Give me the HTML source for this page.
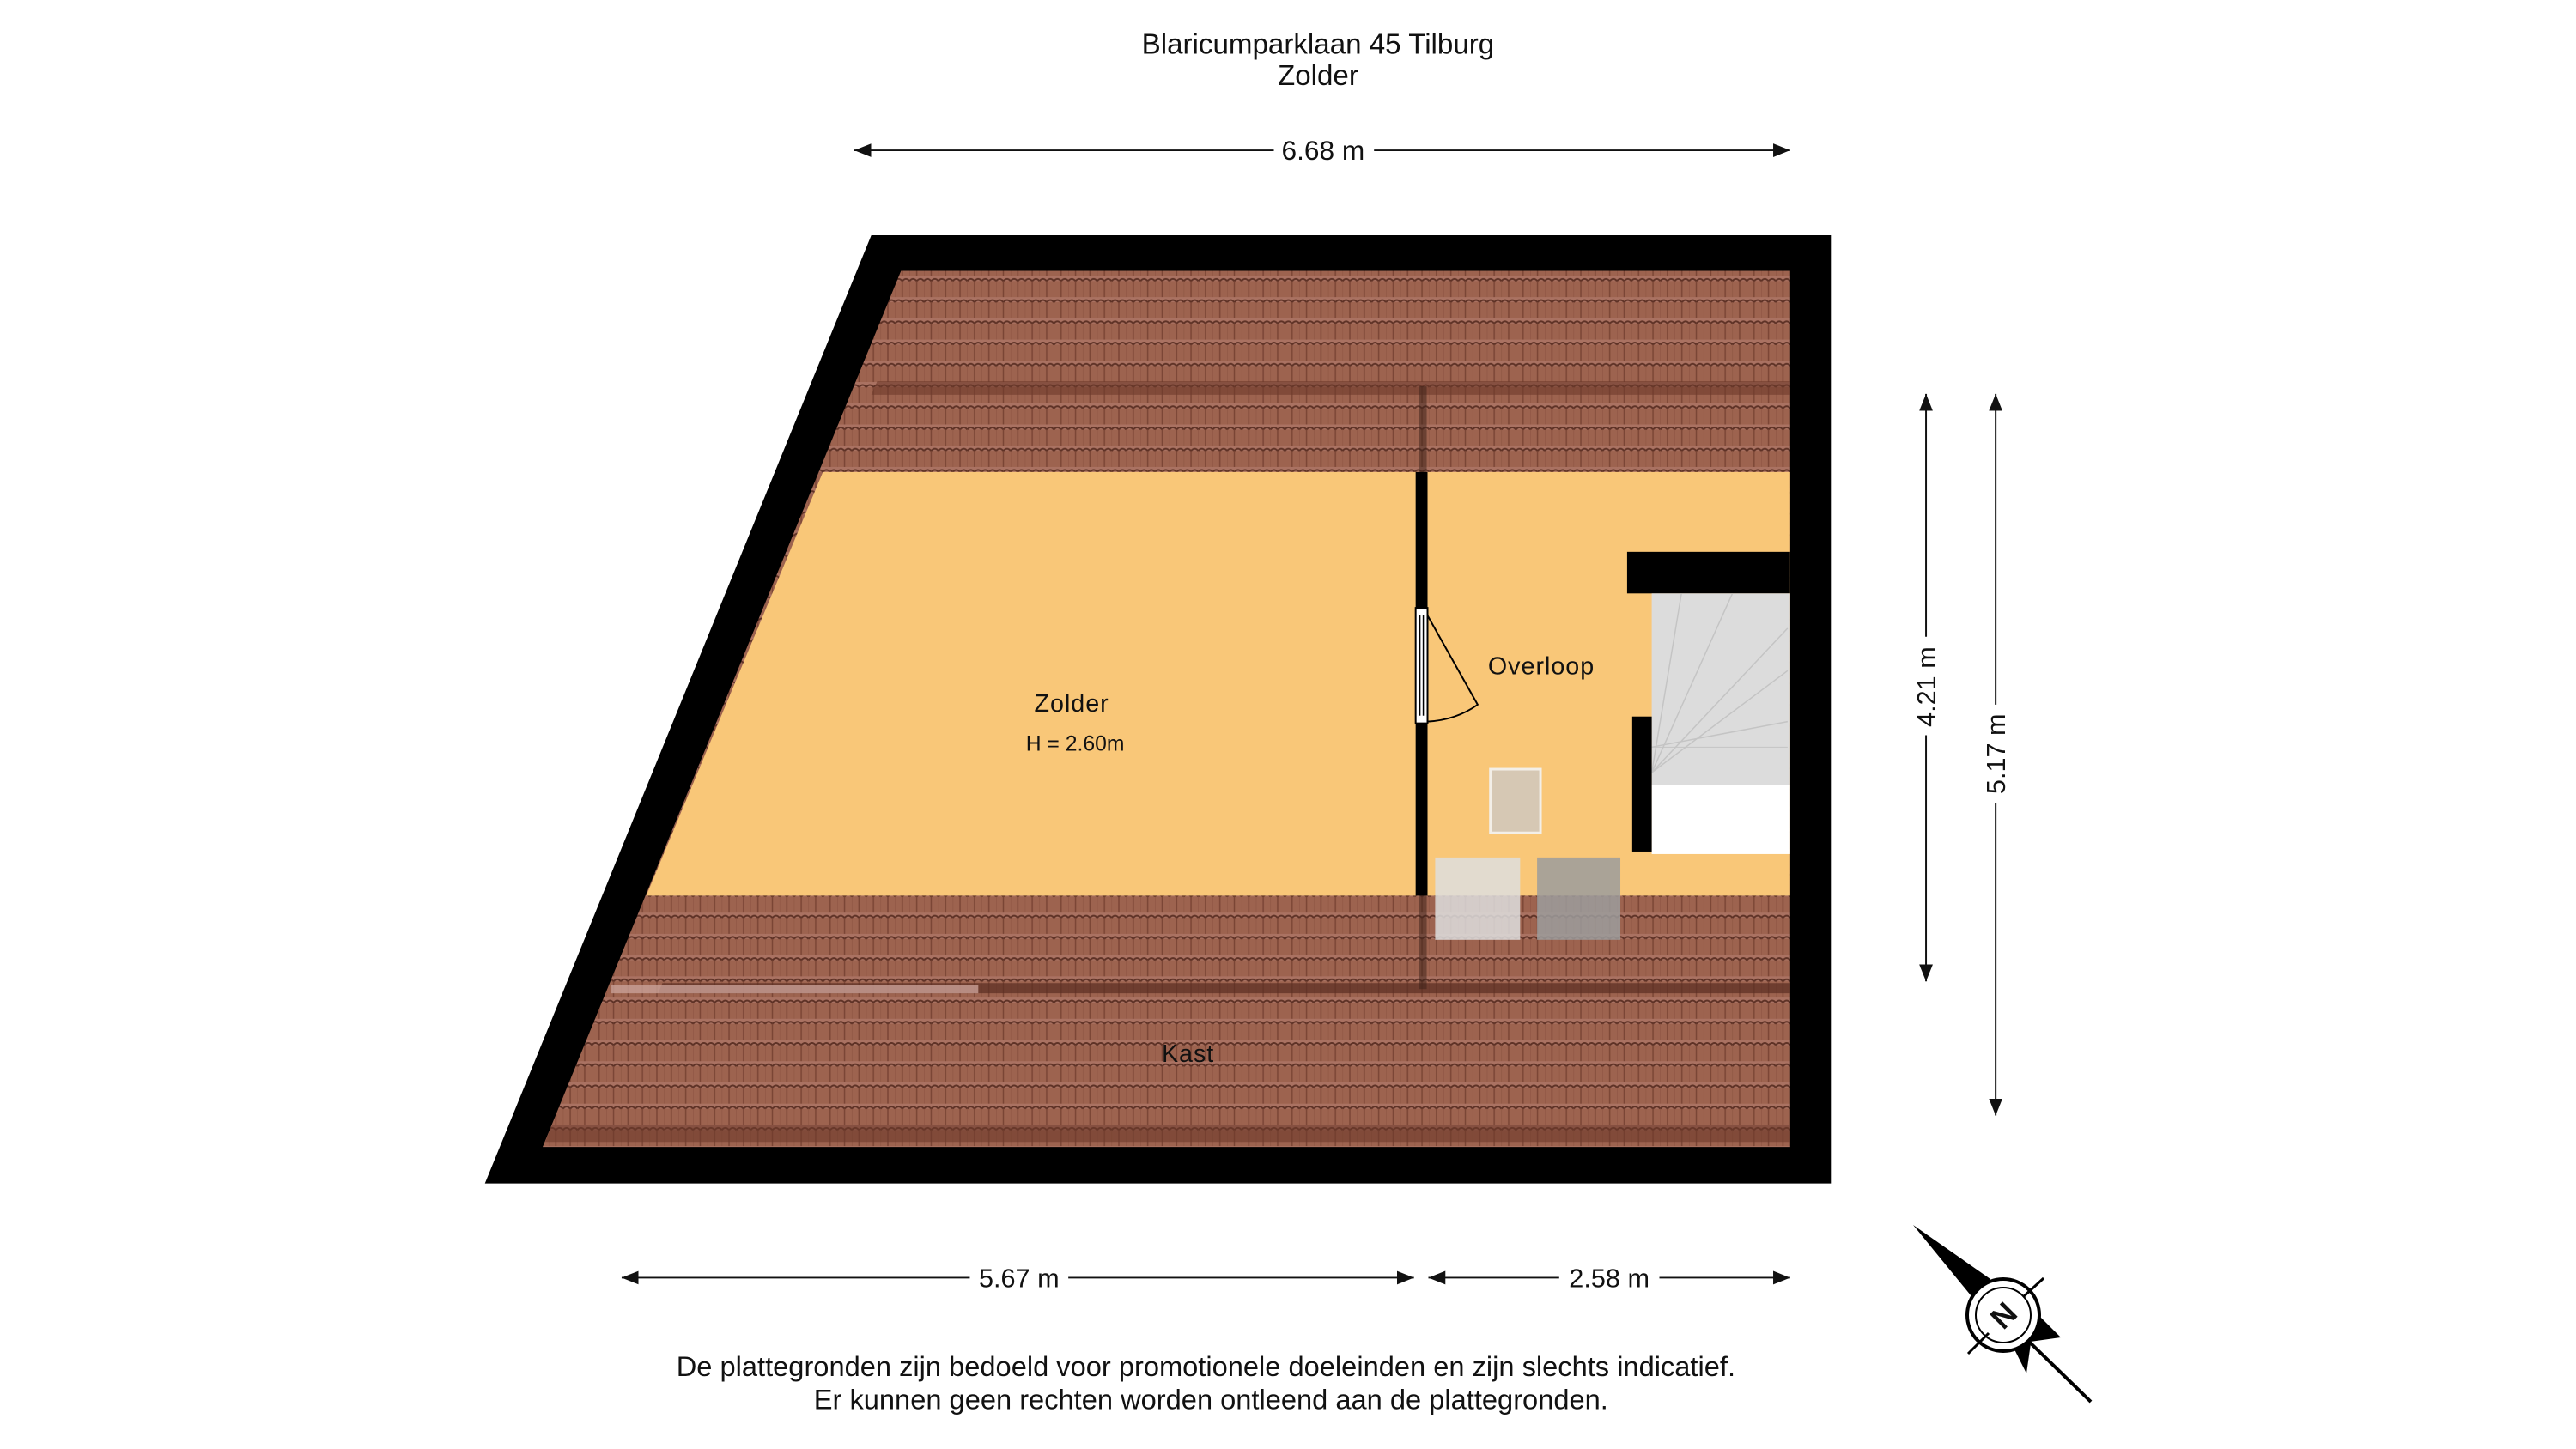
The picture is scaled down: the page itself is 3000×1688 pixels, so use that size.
<!DOCTYPE html>
<html><head><meta charset="utf-8"><style>
html,body{margin:0;padding:0;background:#fff;}
svg{display:block;}
text{font-family:"Liberation Sans",sans-serif;fill:#111;}
</style></head><body>
<svg width="3000" height="1688" viewBox="0 0 3000 1688" xmlns="http://www.w3.org/2000/svg">
<defs>
<pattern id="tile" width="17" height="25" patternUnits="userSpaceOnUse">
<rect width="17" height="25" fill="#9d634f"/>
<rect x="0" y="0" width="17" height="6" fill="#aa7262"/>
<path d="M0 6 Q4 1 8.5 6 Q13 1 17 6" fill="none" stroke="#5e3226" stroke-width="2"/>
<line x1="8.5" y1="6" x2="8.5" y2="25" stroke="#7a4535" stroke-width="1.5"/>
<line x1="0" y1="6" x2="0" y2="25" stroke="#8a5240" stroke-width="1"/>
</pattern>
<marker id="ar" viewBox="0 0 10 10" refX="10" refY="5" markerWidth="10" markerHeight="10" orient="auto-start-reverse"><path d="M0 1 L10 5 L0 9 z" fill="#111"/></marker>
</defs>
<g transform="scale(0.989)">
<text x="1552" y="63" font-size="33.5" text-anchor="middle">Blaricumparklaan 45 Tilburg</text>
<text x="1552" y="100" font-size="33.5" text-anchor="middle">Zolder</text>

<line x1="1006" y1="177" x2="1500" y2="177" stroke="#111" stroke-width="2" marker-start="url(#ar)"/>
<line x1="1618" y1="177" x2="2108" y2="177" stroke="#111" stroke-width="2" marker-end="url(#ar)"/>
<text x="1558" y="188" font-size="32" text-anchor="middle">6.68 m</text>

<polygon points="1026,277 2156,277 2156,1394 571,1394" fill="#000"/>
<polygon points="1061,319 2108,319 2108,1351 639,1351" fill="url(#tile)"/>
<polygon points="1033,449 2108,449 2108,465 1026,465" fill="#6e3a2b" opacity="0.6"/>
<polygon points="780,1158 2108,1158 2108,1170 775,1170" fill="#5a2e22" opacity="0.7"/>
<rect x="720" y="1160" width="432" height="10" fill="#c9a097" opacity="0.8"/>
<polygon points="650,1325 2108,1325 2108,1345 642,1345" fill="#6e3a2b" opacity="0.6"/>
<polygon points="969,556 2108,556 2108,1055 761,1055" fill="#f9c778"/>

<rect x="1671" y="455" width="9" height="710" fill="#3a2018" opacity="0.5"/>
<rect x="1667" y="556" width="14" height="160" fill="#000"/>
<rect x="1667" y="852" width="14" height="203" fill="#000"/>
<rect x="1667" y="716" width="14" height="136" fill="#fff" stroke="#000" stroke-width="2"/>
<line x1="1672" y1="725" x2="1672" y2="843" stroke="#000" stroke-width="1.5"/>
<line x1="1676" y1="725" x2="1676" y2="843" stroke="#000" stroke-width="1.5"/>
<path d="M1681 725 L1740 830 Q1715 848 1681 850" fill="none" stroke="#000" stroke-width="2"/>

<rect x="1916" y="650" width="192" height="49" fill="#000"/>
<rect x="1945" y="699" width="163" height="226" fill="#dcdcdc"/>
<path d="M1945 910 L1980 699 M1945 910 L2040 699 M1945 910 L2105 740 M1945 910 L2105 790 M1945 880 L2105 850" stroke="#c4c4c4" stroke-width="1.5" fill="none"/>
<line x1="1945" y1="880" x2="2105" y2="880" stroke="#c4c4c4"/>
<rect x="1945" y="925" width="163" height="81" fill="#fff"/>
<rect x="1922" y="844" width="23" height="159" fill="#000"/>

<rect x="1755" y="906" width="59" height="75" fill="#d6c8b4" stroke="#f3efe8" stroke-width="3"/>
<rect x="1690" y="1010" width="100" height="97" fill="#dedede" opacity="0.85"/>
<rect x="1810" y="1010" width="98" height="97" fill="#9c9c9c" opacity="0.85"/>

<text x="1262" y="838" font-size="29" text-anchor="middle" letter-spacing="1">Zolder</text>
<text x="1266" y="884" font-size="25" text-anchor="middle">H = 2.60m</text>
<text x="1815" y="794" font-size="29" text-anchor="middle" letter-spacing="1">Overloop</text>
<text x="1399" y="1251" font-size="29" text-anchor="middle" letter-spacing="1">Kast</text>

<line x1="2268" y1="464" x2="2268" y2="750" stroke="#111" stroke-width="2" marker-start="url(#ar)"/>
<line x1="2268" y1="866" x2="2268" y2="1156" stroke="#111" stroke-width="2" marker-end="url(#ar)"/>
<text x="2279" y="809" font-size="31" text-anchor="middle" transform="rotate(-90 2279 809)">4.21 m</text>
<line x1="2350" y1="464" x2="2350" y2="830" stroke="#111" stroke-width="2" marker-start="url(#ar)"/>
<line x1="2350" y1="946" x2="2350" y2="1314" stroke="#111" stroke-width="2" marker-end="url(#ar)"/>
<text x="2361" y="888" font-size="31" text-anchor="middle" transform="rotate(-90 2361 888)">5.17 m</text>

<line x1="732" y1="1505" x2="1142" y2="1505" stroke="#111" stroke-width="2" marker-start="url(#ar)"/>
<line x1="1258" y1="1505" x2="1665" y2="1505" stroke="#111" stroke-width="2" marker-end="url(#ar)"/>
<text x="1200" y="1516" font-size="31" text-anchor="middle">5.67 m</text>
<line x1="1682" y1="1505" x2="1836" y2="1505" stroke="#111" stroke-width="2" marker-start="url(#ar)"/>
<line x1="1954" y1="1505" x2="2108" y2="1505" stroke="#111" stroke-width="2" marker-end="url(#ar)"/>
<text x="1895" y="1516" font-size="31" text-anchor="middle">2.58 m</text>

<text x="1420" y="1621" font-size="33" text-anchor="middle">De plattegronden zijn bedoeld voor promotionele doeleinden en zijn slechts indicatief.</text>
<text x="1426" y="1660" font-size="33" text-anchor="middle">Er kunnen geen rechten worden ontleend aan de plattegronden.</text>
</g>

<polygon points="2228,1427 2318,1490 2300,1515" fill="#000"/>
<polygon points="2400,1558 2372,1530 2350,1565" fill="#000"/>
<polygon points="2360,1600 2340,1560 2365,1565" fill="#000"/>
<line x1="2360" y1="1560" x2="2435" y2="1633" stroke="#000" stroke-width="4"/>
<circle cx="2333" cy="1532" r="42" fill="#fff" stroke="#000" stroke-width="4"/>
<circle cx="2333" cy="1532" r="32" fill="none" stroke="#000" stroke-width="2"/>
<line x1="2292" y1="1577" x2="2316" y2="1553" stroke="#000" stroke-width="3"/>
<line x1="2356" y1="1511" x2="2380" y2="1489" stroke="#000" stroke-width="3"/>
<text x="2333" y="1545" font-size="36" font-weight="bold" text-anchor="middle" transform="rotate(-45 2333 1532)">N</text>
</svg>
</body></html>
